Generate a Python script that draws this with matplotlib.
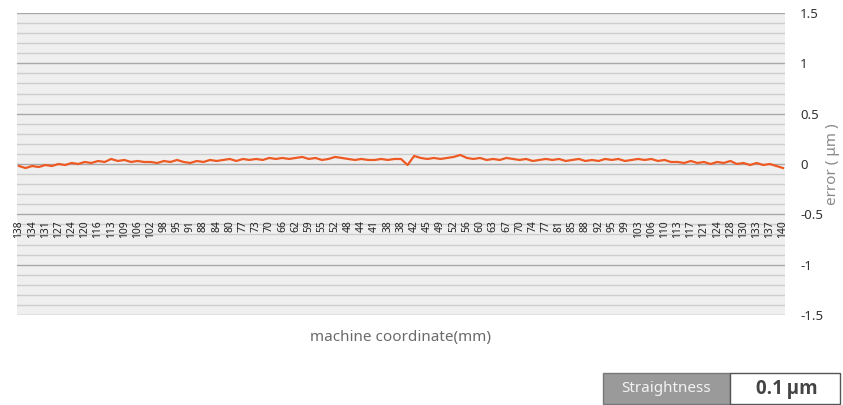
import numpy as np
import matplotlib
matplotlib.use('Agg')
import matplotlib.pyplot as plt
from matplotlib.patches import Rectangle

plt.rcParams['font.family'] = ['Noto Sans', 'DejaVu Sans']

# tick labels of the category axis (machine coordinate, mm)
coord_labels = ['138', '134', '131', '127', '124', '120', '116', '113', '109', '106',
                '102', '98', '95', '91', '88', '84', '80', '77', '73', '70',
                '66', '62', '59', '55', '52', '48', '44', '41', '38',
                '38', '42', '45', '49', '52', '56', '60', '63', '67', '70',
                '74', '77', '81', '85', '88', '92', '95', '99', '103', '106',
                '110', '113', '117', '121', '124', '128', '130', '133', '137', '140']

err = [-0.02, -0.04, -0.02, -0.03, -0.01, -0.02, 0.00, -0.01, 0.01, 0.00, 0.02,
       0.01, 0.03, 0.02, 0.05, 0.03, 0.04, 0.02, 0.03, 0.02, 0.02,
       0.01, 0.03, 0.02, 0.04, 0.02, 0.01, 0.03, 0.02, 0.04, 0.03,
       0.04, 0.05, 0.03, 0.05, 0.04, 0.05, 0.04, 0.06, 0.05, 0.06,
       0.05, 0.06, 0.07, 0.05, 0.06, 0.04, 0.05, 0.07, 0.06, 0.05,
       0.04, 0.05, 0.04, 0.04, 0.05, 0.04, 0.05, 0.05,
       -0.01, 0.08, 0.06,
       0.05, 0.06, 0.05, 0.06, 0.07, 0.09, 0.06, 0.05, 0.06,
       0.04, 0.05, 0.04, 0.06, 0.05, 0.04, 0.05, 0.03, 0.04, 0.05,
       0.04, 0.05, 0.03, 0.04, 0.05, 0.03, 0.04, 0.03, 0.05, 0.04,
       0.05, 0.03, 0.04, 0.05, 0.04, 0.05, 0.03, 0.04, 0.02, 0.02,
       0.01, 0.03, 0.01, 0.02, 0.00, 0.02, 0.01, 0.03, 0.00, 0.01,
       -0.01, 0.01, -0.01, 0.00, -0.02, -0.04]

straightness = '0.1\u2009\u03bcm'

W, H = 843, 405
fig = plt.figure(figsize=(W/100, H/100), dpi=100)
ax = fig.add_axes([17/W, (H-315)/H, 768/W, 302/H])
ax.set_facecolor('#efefef')

x = np.arange(len(err))
ax.set_xlim(-0.3, len(err)-1+0.3)
ax.set_ylim(-1.5, 1.5)

# grid lines
for v in np.arange(-1.5, 1.51, 0.1):
    major = abs(round(v/0.5) - v/0.5) < 1e-6
    ax.axhline(v, color='#a8a8a8' if major else '#cdcdcd', lw=1.0, zorder=1)

ax.plot(x, err, color='#ee5a24', lw=1.6, zorder=3)

# category labels sit just under the -0.5 line
tpos = np.arange(0, len(err), 2)
for p, lab in zip(tpos, coord_labels):
    ax.text(p, -0.56, lab, rotation=90, ha='center', va='top',
            fontsize=7.4, color='#222222', zorder=4)

ax.set_xticks([])
ax.yaxis.tick_right()
ax.set_yticks([-1.5, -1, -0.5, 0, 0.5, 1, 1.5])
ax.set_yticklabels(['-1.5', '-1', '-0.5', '0', '0.5', '1', '1.5'])
ax.tick_params(axis='y', length=0, pad=11, labelsize=9.5, labelcolor='#333333')
for s in ax.spines.values():
    s.set_visible(False)

fig.text(832/W, 1-164/H, 'error ( \u03bcm )', rotation=90, ha='center', va='center',
         fontsize=11, color='#8a8a8a')
fig.text(400/W, 1-338/H, 'machine coordinate(mm)', ha='center', va='center',
         fontsize=11, color='#6a6a6a')

# result box
fig.patches.append(Rectangle((603/W, 1-404/H), 127/W, 31/H, transform=fig.transFigure,
                             facecolor='#9a9a9a', edgecolor='#777777', lw=1))
fig.patches.append(Rectangle((730/W, 1-404/H), 110/W, 31/H, transform=fig.transFigure,
                             facecolor='white', edgecolor='#555555', lw=1))
fig.text(666/W, 1-389/H, 'Straightness', ha='center', va='center',
         fontsize=11, color='#f2f2f2')
fig.text(787/W, 1-389/H, straightness, ha='center', va='center',
         fontsize=13.5, color='#444444', fontweight='bold',
         family=['Open Sans', 'DejaVu Sans'])

fig.savefig('out.png', dpi=100)
